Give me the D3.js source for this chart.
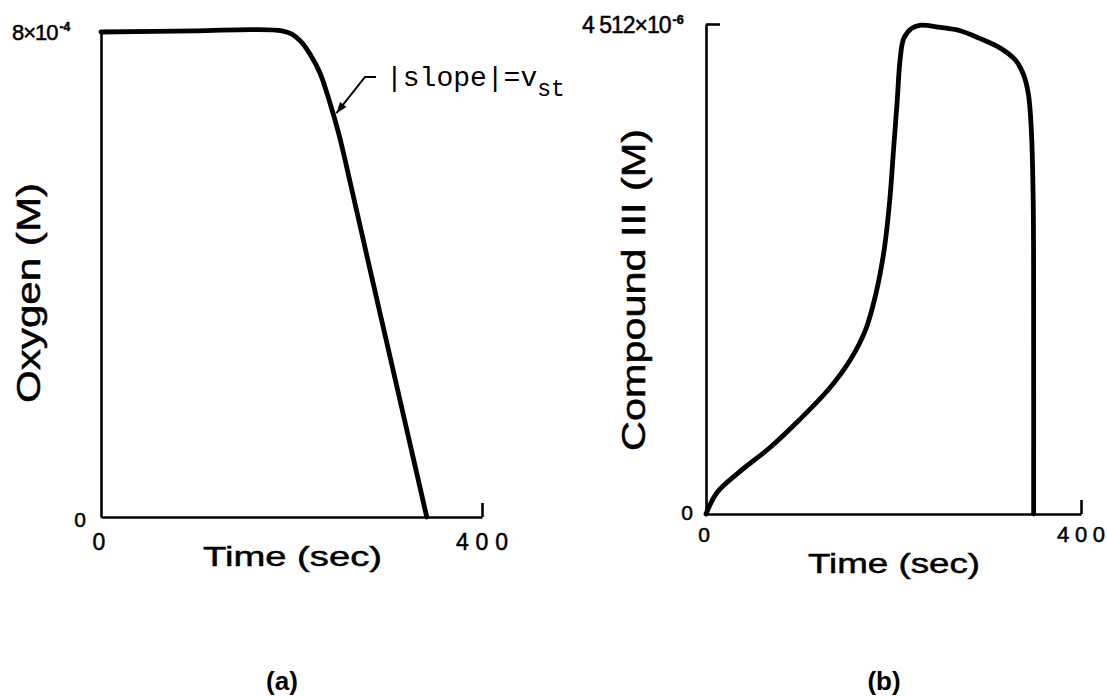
<!DOCTYPE html>
<html>
<head>
<meta charset="utf-8">
<script src="https://cdn.jsdelivr.net/npm/d3@7"></script>
<style>
  html, body { margin: 0; padding: 0; background: #fff; }
  svg { display: block; }
  text { fill: #000; font-family: "Liberation Sans", Arial, sans-serif; }
  .heavy { stroke: #000; stroke-width: 0.5px; }
  .mono { font-family: "Liberation Mono", "DejaVu Sans Mono", monospace; }
</style>
</head>
<body>
<svg id="fig" width="1107" height="696"></svg>
<script>
// Panel (a): dissolved oxygen vs time (units of 1e-4 M)
const timeA   = [0, 100, 160, 190, 200, 210, 220, 230, 240, 250, 260, 280, 300, 320, 342];
const oxygenA = [8.0, 8.02, 8.04, 8.02, 7.97, 7.84, 7.62, 7.32, 6.85, 6.3, 5.63, 4.25, 2.88, 1.51, 0];

// Panel (b): Compound III vs time (units of 1e-6 M)
const timeB     = [0, 12, 36, 68, 100, 132, 154, 170, 181, 190, 196, 200, 204, 207, 211, 219, 228, 250, 271, 292, 314, 330, 339, 344, 347, 349, 349.5, 349.5];
const compoundB = [0, 0.2, 0.39, 0.61, 0.87, 1.16, 1.42, 1.69, 2.02, 2.43, 2.89, 3.35, 3.81, 4.18, 4.38, 4.47, 4.50, 4.48, 4.45, 4.38, 4.29, 4.18, 4.04, 3.86, 3.54, 2.89, 1.5, 0];

// Axis extents and tick labels
const timeDomain = [0, 400];
const oxygenMax = 8;        // 8×10^-4 M
const compoundMax = 4.512;  // 4.512×10^-6 M
const xTickLabels = ["0", "400"];

const svg = d3.select("#fig");

function panel(opts) {
  const x = d3.scaleLinear().domain(timeDomain).range([opts.left, opts.right]);
  const y = d3.scaleLinear().domain([0, opts.ymax]).range([opts.bottom, opts.top]);
  const g = svg.append("g");

  // x axis: baseline with an upward tick at the end
  const xa = g.append("g")
    .attr("transform", `translate(0,${opts.bottom})`)
    .call(d3.axisBottom(x).tickValues([400]).tickSizeInner(-14).tickSizeOuter(0).tickFormat(""));
  xa.selectAll("path, line").attr("stroke", "#000").attr("stroke-width", 2.6);

  // y axis
  const ya = g.append("g")
    .attr("transform", `translate(${opts.left},0)`)
    .call(d3.axisLeft(y).tickValues(opts.yTicks).tickSizeInner(-14).tickSizeOuter(0).tickFormat(""));
  ya.selectAll("path, line").attr("stroke", "#000").attr("stroke-width", 2.6);

  // data curve
  const line = d3.line()
    .x(d => x(d[0])).y(d => y(d[1]))
    .curve(d3.curveCatmullRom.alpha(0.5));
  g.append("path")
    .datum(opts.t.map((t, i) => [t, opts.v[i]]))
    .attr("fill", "none").attr("stroke", "#000")
    .attr("stroke-width", 4.8).attr("stroke-linejoin", "round").attr("stroke-linecap", "round")
    .attr("d", line);

  return { x, y, g };
}

function sciLabel(g, x, y, size, mantissa, exponent) {
  const t = g.append("text").attr("class", "heavy").attr("x", x).attr("y", y).attr("font-size", size);
  t.append("tspan").attr("letter-spacing", -1).text(mantissa);
  t.append("tspan").attr("dy", -9).attr("dx", 2).attr("font-size", size * 0.55).attr("font-weight", "bold").text(exponent);
}

// ---------- Panel (a)
const A = panel({ left: 101, right: 482, top: 32, bottom: 517, ymax: oxygenMax, yTicks: [], t: timeA, v: oxygenA });

A.g.append("text").attr("class", "heavy").attr("x", 86).attr("y", 527).attr("text-anchor", "end")
  .attr("font-size", 21).text("0");
sciLabel(A.g, 12, 40, 22, "8×10", "-4");
A.g.append("text").attr("class", "heavy").attr("x", A.x(0) - 2).attr("y", 550).attr("text-anchor", "middle")
  .attr("font-size", 23).text(xTickLabels[0]);
A.g.append("text").attr("class", "heavy").attr("x", A.x(400) - 26).attr("y", 550).attr("font-size", 23)
  .attr("textLength", 52).attr("lengthAdjust", "spacing").text(xTickLabels[1]);
A.g.append("text").attr("class", "heavy").attr("x", 203).attr("y", 566).attr("font-size", 28)
  .attr("textLength", 179).attr("lengthAdjust", "spacingAndGlyphs").text("Time (sec)");
A.g.append("text").attr("class", "heavy").attr("transform", "translate(40,293) rotate(-90)").attr("text-anchor", "middle")
  .attr("font-size", 33).attr("textLength", 220).attr("lengthAdjust", "spacingAndGlyphs").text("Oxygen (M)");

// slope annotation with leader arrow
const tipT = 244, tipV = 6.66;
const tipX = A.x(tipT) + 3, tipY = A.y(tipV);
A.g.append("path")
  .attr("d", `M${tipX},${tipY} L365,77 L376,77`)
  .attr("fill", "none").attr("stroke", "#000").attr("stroke-width", 2);
const ang = Math.atan2(77 - tipY, 365 - tipX);
const ah = 11, aw = 4;
const bx = tipX + ah * Math.cos(ang), by = tipY + ah * Math.sin(ang);
A.g.append("path")
  .attr("d", `M${tipX},${tipY} L${bx - aw * Math.sin(ang)},${by + aw * Math.cos(ang)} L${bx + aw * Math.sin(ang)},${by - aw * Math.cos(ang)} Z`)
  .attr("fill", "#000");
const ann = A.g.append("text").attr("class", "mono").attr("x", 386).attr("y", 86).attr("font-size", 28);
ann.append("tspan").text("|slope|=v");
ann.append("tspan").attr("dy", 10).attr("font-size", 23).text("st");

A.g.append("text").attr("x", 282).attr("y", 690).attr("text-anchor", "middle")
  .attr("font-size", 26).attr("font-weight", "bold").text("(a)");

// ---------- Panel (b)
const B = panel({ left: 706, right: 1081, top: 24, bottom: 514, ymax: compoundMax, yTicks: [compoundMax], t: timeB, v: compoundB });

B.g.append("text").attr("class", "heavy").attr("x", 693).attr("y", 520).attr("text-anchor", "end")
  .attr("font-size", 21).text("0");
sciLabel(B.g, 582, 33, 23, "4 512×10", "-6");
B.g.append("text").attr("class", "heavy").attr("x", B.x(0) - 2).attr("y", 542).attr("text-anchor", "middle")
  .attr("font-size", 21).text(xTickLabels[0]);
B.g.append("text").attr("class", "heavy").attr("x", B.x(400) - 24).attr("y", 542).attr("font-size", 22)
  .attr("textLength", 48).attr("lengthAdjust", "spacing").text(xTickLabels[1]);
B.g.append("text").attr("class", "heavy").attr("x", 808).attr("y", 573).attr("font-size", 28)
  .attr("textLength", 172).attr("lengthAdjust", "spacingAndGlyphs").text("Time (sec)");
B.g.append("text").attr("class", "heavy").attr("transform", "translate(645,290) rotate(-90)").attr("text-anchor", "middle")
  .attr("font-size", 33).attr("textLength", 322).attr("lengthAdjust", "spacingAndGlyphs").text("Compound III (M)");

B.g.append("text").attr("x", 884).attr("y", 690).attr("text-anchor", "middle")
  .attr("font-size", 26).attr("font-weight", "bold").text("(b)");
</script>
</body>
</html>
